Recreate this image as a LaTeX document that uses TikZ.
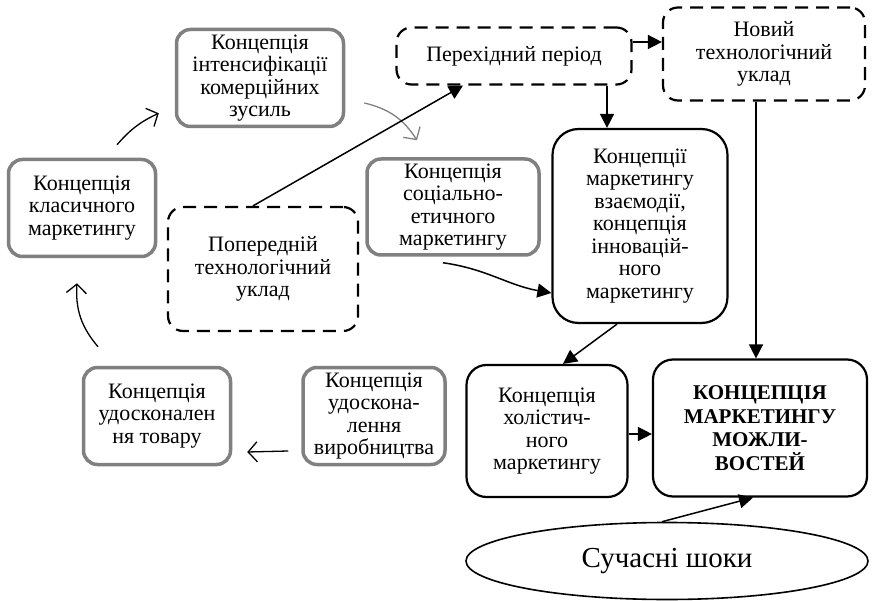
\documentclass[tikz,border=0pt]{standalone}
\usepackage{fontspec}
\setmainfont{Liberation Serif}
\usetikzlibrary{positioning, arrows.meta, shapes, calc}

\begin{document}
\begin{tikzpicture}[
    x=1pt, y=1pt,
    every node/.style={font=\fontsize{22}{22.5}\selectfont, align=center, inner sep=1pt},
    gs/.style={draw=gray, line width=3.5pt, rounded corners=14pt},
    bs/.style={draw, line width=2.2pt, rounded corners=20pt},
    ds/.style={draw, line width=2.2pt, rounded corners=15pt, dash pattern=on 13pt off 8pt},
    arrow/.style={-{Triangle[length=14pt, width=14pt]}, line width=1.5pt},
    barb/.style={-{Straight Barb[length=9pt, width=20pt]}, line width=1.3pt}
  ]
  \useasboundingbox (0,0) rectangle (872,-601);

  % old concepts (grey)
  \node[gs, minimum width=147pt, minimum height=97pt] (kl) at (82,-208) {Концепція\\класичного\\маркетингу};
  \node[gs, minimum width=167pt, minimum height=97pt] (ik) at (260,-78) {Концепція\\інтенсифікації\\комерційних\\зусиль};
  \node[gs, minimum width=172pt, minimum height=96pt] (se) at (453,-207) {Концепція\\соціально-\\етичного\\маркетингу};
  \node[gs, minimum width=147pt, minimum height=97pt] (ut) at (157,-416) {Концепція\\удосконален\\ня товару};
  \node[gs, minimum width=142pt, minimum height=97pt] (uv) at (374,-416) {Концепція\\удоскона-\\лення\\виробництва};

  % technological orders (dashed)
  \node[ds, minimum width=190pt, minimum height=124pt] (pp) at (263,-269) {Попередній\\технологічний\\уклад};
  \node[ds, minimum width=235pt, minimum height=57pt] (pe) at (514,-56) {Перехідний період};
  \node[ds, minimum width=202pt, minimum height=93pt] (nt) at (764,-54) {Новий\\технологічний\\уклад};

  % new concepts (black)
  \node[bs, minimum width=175pt, minimum height=194pt, rounded corners=26pt] (vz) at (640,-226) {Концепції\\маркетингу\\взаємодії,\\концепція\\інновацій-\\ного\\маркетингу};
  \node[bs, minimum width=161pt, minimum height=132pt] (hm) at (547,-431) {Концепція\\холістич-\\ного\\маркетингу};
  \node[bs, minimum width=214pt, minimum height=137pt, font=\fontsize{21}{23.5}\selectfont\bfseries] (km) at (760,-428) {КОНЦЕПЦІЯ\\МАРКЕТИНГУ\\МОЖЛИ-\\ВОСТЕЙ};
  \node[draw, ellipse, line width=1.6pt, minimum width=402pt, minimum height=77pt, font=\fontsize{29}{32}\selectfont] (ss) at (667,-561) {Сучасні шоки};

  % helper points
  \coordinate (v1) at ([xshift=-33pt]vz.north);
  \coordinate (k1) at ([xshift=-4pt]km.north);
  \coordinate (p1) at ([yshift=14pt]pe.east);
  \coordinate (h1) at ([yshift=-3pt]hm.east);

  % old cycle
  \draw[barb] ([xshift=35pt,yshift=13pt]kl.north) to[bend left=12] ([xshift=-16pt,yshift=15pt]ik.south west);
  \draw[barb, gray] ([xshift=19pt,yshift=-25pt]ik.east) to[bend left=22] ([xshift=-36pt,yshift=17pt]se.north);
  \draw[barb] ([xshift=-13pt,yshift=-35pt]uv.west) -- ([xshift=15pt,yshift=-36pt]ut.east);
  \draw[barb] ([xshift=-59pt,yshift=19pt]ut.north) to[bend left=22] ([xshift=-5pt,yshift=-25pt]kl.south);

  % transition
  \draw[arrow] ([xshift=-10pt]pp.north) -- ([xshift=-51pt]pe.south);
  \draw[arrow] (p1) -- (p1 -| nt.west);
  \draw[arrow] (v1 |- pe.south) -- (v1);
  \draw[arrow] (k1 |- nt.south) -- (k1);
  \draw[arrow] ([xshift=-10pt,yshift=-6pt]se.south) to[out=-8, in=170] ([yshift=-67pt]vz.west);
  \draw[arrow] ([xshift=-23pt]vz.south) -- ([xshift=16pt]hm.north);
  \draw[arrow] (h1) -- (h1 -| km.west);
  \draw[arrow] ([xshift=-5pt]ss.north) -- ([xshift=-7pt]km.south);
\end{tikzpicture}
\end{document}
